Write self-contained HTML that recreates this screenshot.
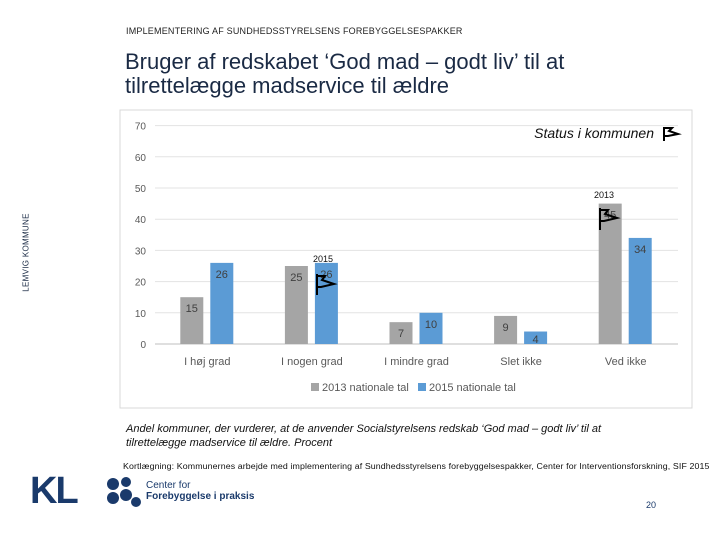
<!DOCTYPE html>
<html><head><meta charset="utf-8"><style>
body{margin:0;width:720px;height:540px;background:#fff;position:relative;overflow:hidden;font-family:"Liberation Sans",sans-serif}
.a{position:absolute}
</style></head><body>
<div class="a" style="left:126px;top:26px;font-size:9px;color:#222;letter-spacing:0.2px">IMPLEMENTERING AF SUNDHEDSSTYRELSENS FOREBYGGELSESPAKKER</div>
<div class="a" style="left:125px;top:50px;font-size:22px;line-height:24px;color:#1a2a44">Bruger af redskabet ‘God mad – godt liv’ til at<br>tilrettelægge madservice til ældre</div>
<div class="a" style="left:-13px;top:248px;transform:rotate(-90deg);font-size:8px;color:#1a2a44;letter-spacing:0.3px">LEMVIG KOMMUNE</div>
<svg class="a" style="left:0;top:0" width="720" height="540">
<rect x="120" y="110" width="572" height="298" fill="#fff" stroke="#d9d9d9"/>
<g id="grid"></g><g id="bars"></g>
<text x="654" y="138" font-size="14" font-style="italic" text-anchor="end" fill="#111">Status i kommunen</text>
<path d="M664 141V127M664 128h8l-3 3 9 3-10 2h-4" fill="none" stroke="#000" stroke-width="2"/>
<text x="313" y="262" font-size="9" fill="#111">2015</text>
<path d="M317 295V274M317 276h8l-3 4 12 4-13 3h-4" fill="none" stroke="#000" stroke-width="2"/>
<text x="594" y="198" font-size="9" fill="#111">2013</text>
<path d="M600 230V208M600 210h8l-3 4 12 4-13 3h-4" fill="none" stroke="#000" stroke-width="2"/>
<rect x="311" y="383" width="8" height="8" fill="#a5a5a5"/>
<text x="322" y="391" font-size="11" fill="#595959">2013 nationale tal</text>
<rect x="418" y="383" width="8" height="8" fill="#5b9bd5"/>
<text x="429" y="391" font-size="11" fill="#595959">2015 nationale tal</text>
</svg>
<div class="a" style="left:126px;top:422px;font-size:11px;font-style:italic;line-height:14px;color:#111">Andel kommuner, der vurderer, at de anvender Socialstyrelsens redskab ‘God mad – godt liv’ til at<br>tilrettelægge madservice til ældre. Procent</div>
<div class="a" style="left:123px;top:462px;font-size:8px;color:#111;letter-spacing:0.1px;transform:scaleX(1.1);transform-origin:left">Kortlægning: Kommunernes arbejde med implementering af Sundhedsstyrelsens forebyggelsespakker, Center for Interventionsforskning, SIF 2015</div>
<div class="a" style="left:30px;top:470px;font-size:38px;font-weight:bold;color:#1a3a6b;letter-spacing:-2px">KL</div>
<svg class="a" style="left:106px;top:476px" width="36" height="34"><g fill="#1a3a6b"><circle cx="7" cy="8" r="6"/><circle cx="20" cy="6" r="5"/><circle cx="7" cy="22" r="6"/><circle cx="20" cy="19" r="6"/><circle cx="30" cy="26" r="5"/></g></svg>
<div class="a" style="left:146px;top:480px;font-size:10px;line-height:11px;color:#1a3a6b">Center for<br><b>Forebyggelse i praksis</b></div>
<div class="a" style="left:646px;top:500px;font-size:9px;color:#1a3a6b">20</div>
<script>
const categories=["I høj grad","I nogen grad","I mindre grad","Slet ikke","Ved ikke"];
const values2013=[15,25,7,9,45];
const values2015=[26,26,10,4,34];
const yTicks=[0,10,20,30,40,50,60,70];
const NS="http://www.w3.org/2000/svg";
const x0=155,x1=678,y0=344,pxPer=3.12;
const y=v=>y0-v*pxPer;
const band=(x1-x0)/categories.length;
const cx=i=>x0+band*(i+0.5);
const grid=document.getElementById('grid'),bars=document.getElementById('bars');
function mk(tag,at,par){const e=document.createElementNS(NS,tag);for(const k in at)e.setAttribute(k,at[k]);par.appendChild(e);return e;}
yTicks.forEach(t=>{
 const l=mk('line',{x1:x0,x2:x1,y1:y(t),y2:y(t),stroke:t===0?'#bfbfbf':'#e3e3e3'},grid);
 
 
 const tx=mk('text',{x:146,y:y(t)+4,'font-size':10,'text-anchor':'end',fill:'#595959'},grid);
 tx.textContent=t;
 
 
});
categories.forEach((c,i)=>{
 const tx=mk('text',{x:cx(i),y:365,'font-size':11,'text-anchor':'middle',fill:'#595959'},grid);
 tx.textContent=c;
 
 
 [[values2013,'#a5a5a5',-27],[values2015,'#5b9bd5',3]].forEach(([arr,col,off])=>{
  const v=arr[i];
  const r=mk('rect',{x:cx(i)+off,y:y(v),width:23,height:v*pxPer,fill:col},bars);
  
  
  const lb=mk('text',{x:cx(i)+off+11.5,y:Math.min(y(v)+15,y0-1),'font-size':11,'text-anchor':'middle',fill:'#404040'},bars);
  lb.textContent=v;
  
  
 });
});
</script>
</body></html>
